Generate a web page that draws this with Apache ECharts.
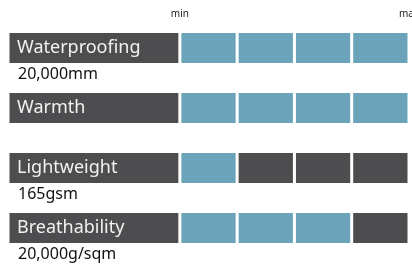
<!DOCTYPE html>
<html>
<head>
<meta charset="utf-8">
<script src="https://cdn.jsdelivr.net/npm/echarts@6/dist/echarts.min.js"></script>
<style>
  html, body { margin: 0; padding: 0; background: #fff; }
  #chart { width: 412px; height: 266px; }
</style>
</head>
<body>
<div id="chart"></div>
<script>
// rows of the spec sheet
const features = ['Waterproofing', 'Warmth', 'Lightweight', 'Breathability']
const ratings = [4, 4, 1, 3]            // filled cells out of 4
const specs = ['20,000mm', '', '165gsm', '20,000g/sqm']
const scaleSteps = 4
const labelSpan = 3                      // width of the name bar, in cell units
const scaleTicks = { 3: 'min', 7: 'max' }

const dark = '#4d4d4f'
const blue = '#6ba4ba'
const font = 'Noto Sans'

const chart = echarts.init(document.getElementById('chart'))

const cellSeries = []
for (let i = 0; i < scaleSteps; i++) {
  cellSeries.push({
    type: 'bar',
    stack: 'row',
    barWidth: 33,
    silent: true,
    data: ratings.map(r => ({
      value: 1,
      itemStyle: { color: i < r ? blue : dark }
    })),
    itemStyle: { borderColor: '#fff', borderWidth: 1.5 }
  })
}

chart.setOption({
  animation: false,
  grid: { left: 8, right: 3, top: 18, bottom: 8, outerBoundsMode: 'none', containLabel: false },
  xAxis: {
    type: 'value',
    position: 'top',
    min: 0,
    max: labelSpan + scaleSteps,
    interval: 1,
    axisLine: { show: false },
    axisTick: { show: false },
    splitLine: { show: false },
    axisLabel: {
      margin: -1,
      fontSize: 10,
      color: '#222',
      fontFamily: font,
      formatter: v => scaleTicks[v] || ''
    }
  },
  yAxis: {
    type: 'category',
    inverse: true,
    data: features,
    show: false
  },
  series: [
    {
      type: 'bar',
      stack: 'row',
      barWidth: 33,
      silent: true,
      data: features.map(() => labelSpan),
      itemStyle: { color: dark, borderColor: '#fff', borderWidth: 1.5 },
      label: {
        show: true,
        position: 'insideLeft',
        distance: 9,
        formatter: p => p.name,
        color: '#f2f2f2',
        fontSize: 18,
        fontFamily: font
      }
    },
    {
      // transparent twin of the name bar, only carries the spec text below it
      type: 'bar',
      barGap: '-100%',
      barWidth: 33,
      silent: true,
      data: features.map(() => labelSpan),
      itemStyle: { color: 'transparent' },
      label: {
        show: true,
        position: [10, 35],
        formatter: p => specs[p.dataIndex],
        color: '#111',
        fontSize: 16,
        fontFamily: font
      }
    },
    ...cellSeries
  ]
})
</script>
</body>
</html>
